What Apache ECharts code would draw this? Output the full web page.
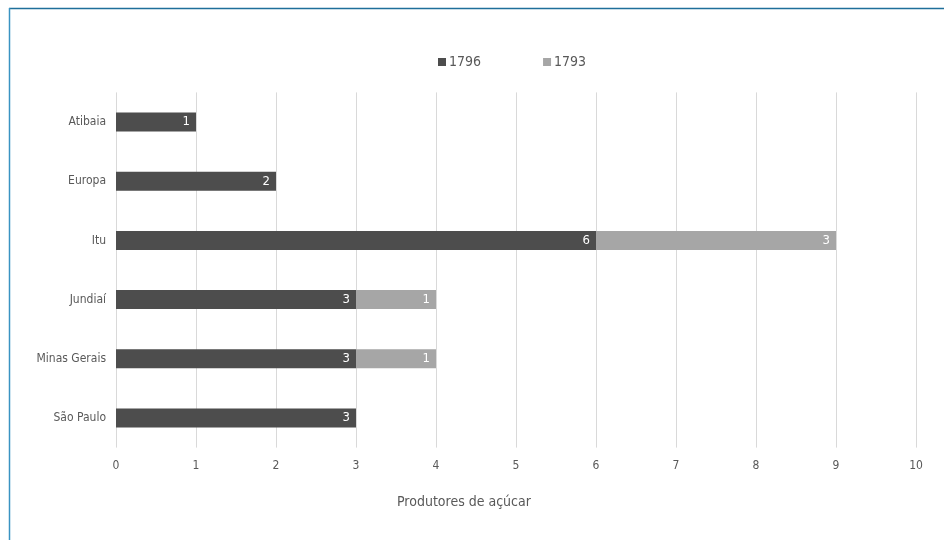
<!DOCTYPE html>
<html><head><meta charset="utf-8">
<script src="https://cdn.jsdelivr.net/npm/echarts@6/dist/echarts.min.js"></script>
<style>html,body{margin:0;padding:0;background:#fff}#c{width:944px;height:540px}</style>
</head><body><div id="c"></div>
<script>
var categories = ['São Paulo', 'Minas Gerais', 'Jundiaí', 'Itu', 'Europa', 'Atibaia'];
var s1796 = [3, 3, 3, 6, 2, 1];
var s1793 = [null, 1, 1, 3, null, null];
var seriesNames = ['1796', '1793'];
var axisTitle = 'Produtores de açúcar';
var FONT = '"DejaVu Sans Condensed", "Liberation Sans Narrow", "Open Sans", sans-serif';
var chart = echarts.init(document.getElementById('c'));
chart.setOption({
  backgroundColor: '#fff',
  animation: false,
  textStyle: { fontFamily: FONT },
  legend: {
    top: 50, left: 433, itemGap: 62, itemWidth: 8, itemHeight: 8,
    icon: 'rect', itemStyle: { borderWidth: 0 },
    textStyle: { color: '#595959', fontSize: 14, fontFamily: FONT, padding: [0, 0, 0, -2] },
    data: seriesNames
  },
  grid: { left: 116, right: 28, top: 92.4, bottom: 92.4, containLabel: false },
  xAxis: {
    type: 'value', min: 0, max: 10, interval: 1,
    axisLine: { show: false }, axisTick: { show: false },
    splitLine: { lineStyle: { color: '#d9d9d9', width: 1 } },
    axisLabel: { color: '#595959', fontSize: 12, margin: 12, fontFamily: FONT }
  },
  yAxis: {
    type: 'category', data: categories,
    axisLine: { show: false }, axisTick: { show: false },
    axisLabel: { color: '#595959', fontSize: 12, margin: 10, fontFamily: FONT }
  },
  series: [
    { name: seriesNames[0], type: 'bar', stack: 'a', data: s1796, barWidth: 19,
      itemStyle: { color: '#4d4d4d' },
      label: { show: true, position: 'insideRight', color: '#fff', fontSize: 13, distance: 6, fontFamily: FONT } },
    { name: seriesNames[1], type: 'bar', stack: 'a', data: s1793, barWidth: 19,
      itemStyle: { color: '#a6a6a6' },
      label: { show: true, position: 'insideRight', color: '#fff', fontSize: 13, distance: 6, fontFamily: FONT } }
  ],
  graphic: [
    { type: 'text', left: 397, top: 495, style: { text: axisTitle, fill: '#595959', fontSize: 14, fontFamily: FONT } },
    { type: 'line', shape: { x1: 9, y1: 8.5, x2: 944, y2: 8.5 }, style: { stroke: '#1f6f9a', lineWidth: 1.5 } },
    { type: 'line', shape: { x1: 9.5, y1: 8, x2: 9.5, y2: 540 }, style: { stroke: '#3a93c2', lineWidth: 1.5 } }
  ]
});
</script></body></html>
